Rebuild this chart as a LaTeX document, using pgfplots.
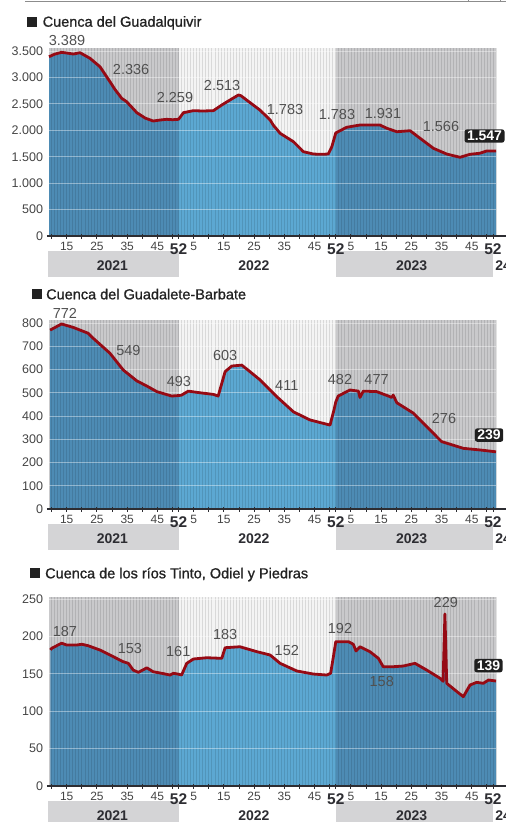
\documentclass[border=0pt]{standalone}
\usepackage{pgfplots}
\pgfplotsset{compat=1.18}
\usepackage{pgfplotstable}
\usepackage{fontspec}
\setmainfont{Liberation Sans}
\newfontfamily\titlefont[FakeBold=1]{Liberation Sans}

\definecolor{bggray}{RGB}{201,201,203}
\definecolor{bglight}{RGB}{244,244,244}
\definecolor{darkblue}{RGB}{77,139,180}
\definecolor{lightblue}{RGB}{92,168,210}
\definecolor{linered}{RGB}{150,10,20}
\definecolor{bandgray}{RGB}{212,212,214}
\definecolor{ticktext}{RGB}{68,68,68}
\definecolor{annot}{RGB}{80,80,80}
\definecolor{axisdark}{RGB}{45,45,50}
\definecolor{titlec}{RGB}{34,34,34}

% weekly reservoir volume (hm3), x = week counted from week 1 of 2021
\pgfplotstableread{
w v
9.14 3392
11 3440
13.3 3475
15 3462
17.2 3443
19.4 3468
22.7 3362
26 3203
29.3 2920
31 2770
33.2 2605
34.8 2542
38.2 2333
41 2230
43.6 2176
46 2195
48.1 2208
50 2200
52 2208
53.6 2333
56.9 2371
60 2365
63.5 2371
66.3 2479
69 2573
71.8 2668
72.6 2655
74.5 2573
78.9 2384
82.3 2195
83.3 2100
85.6 1943
90 1784
93.3 1595
96.6 1551
99 1545
101.5 1551
102.7 1690
104 1950
107.6 2057
112 2100
118.6 2100
120.9 2038
124.2 1973
128.6 1992
131.9 1848
136.3 1659
140.7 1551
145.1 1489
148.4 1546
151.6 1565
153.9 1608
157 1608
}\guad

\pgfplotstableread{
w v
9.5 770
10 773
13.3 796
17.2 781
22.1 756
23.8 734
29.3 670
33.7 598
38.2 551
41.5 529
44.8 505
49.7 486
52 488
53 490
55.2 507
59.1 500
63.5 493
65.1 486
67.4 591
69.6 615
72.9 619
75.6 591
79 555
82.3 512
84.5 483
90 418
95.5 383
102.1 361
103.4 426
104 460
104.8 486
108.7 512
111.5 507
112 480
113.1 507
117.5 505
121.4 486
122.5 480
123 490
124.2 457
129.7 412
134.1 354
139 290
146.2 261
151.7 254
157 246
}\guadalete

\pgfplotstableread{
w v
9.6 182
10 184
13.3 191
15 188.5
18.3 188.5
20 189.5
22.1 187.6
26 181.8
30.4 172.9
33.7 166.2
35.4 164
37 155
38.7 152
41.5 158
43.6 152.8
46.4 150.7
49.2 148.4
50.3 150.7
52 149.5
53 148.4
54.7 164
56.9 169.8
61.3 171.5
66.3 170.7
67.4 184.9
72.3 186.2
77.9 179.6
82.3 175.1
85.6 164
91.1 153.8
96.6 149.7
101 148.4
102.3 150.7
103.3 175
104 193
108.2 193
109.8 189.5
110.7 180.5
112 186.2
115.3 179.6
118.1 170.7
119.7 159.5
123 159.5
126.3 160.4
130.2 164
134.1 155
138.5 144
139.5 140
140.1 230
140.7 137.3
143.4 128.4
146.2 119.4
148.4 135
150.6 138.6
152.8 137.3
154.5 141.7
157 140.4
}\tinto

\newcommand\wk[1]{\raisebox{-4pt}{\fontsize{15.5}{16}\selectfont\bfseries\color{axisdark}#1}}

\newcommand\panelbg[1]{%
  \fill[bggray] (axis cs:9.14,0) rectangle (axis cs:52,#1);
  \fill[bglight] (axis cs:52,0) rectangle (axis cs:104,#1);
  \fill[bggray] (axis cs:104,0) rectangle (axis cs:157,#1);
}
\newcommand\stripes[1]{%
  \pgfplotsinvokeforeach{10,...,157}{%
    \draw[black,opacity=.11,line width=.7pt] (axis cs:##1,0) -- (axis cs:##1,#1);}
}
\newcommand\hgrid[1]{%
  \pgfplotsinvokeforeach{#1}{%
    \draw[white,opacity=.4,line width=.8pt] (axis cs:9.14,##1) -- (axis cs:157,##1);}
}
\newcommand\yearband{%
  \fill[bandgray] ([yshift=-15pt]axis cs:8.9,0) rectangle ([yshift=-41pt]axis cs:52,0);
  \fill[bandgray] ([yshift=-15pt]axis cs:104,0) rectangle ([yshift=-41pt]axis cs:156,0);
  \node[yr] at ([yshift=-29.5pt]axis cs:30.1,0) {2021};
  \node[yr] at ([yshift=-29.5pt]axis cs:76.9,0) {2022};
  \node[yr] at ([yshift=-29.5pt]axis cs:129.1,0) {2023};
  \node[yr,anchor=west,inner xsep=0pt] at ([yshift=-29.5pt]axis cs:156.7,0) {24};
  \draw[axisdark,line width=1.6pt] ([xshift=-2pt]axis cs:9.14,0) -- ([xshift=14pt]axis cs:157,0);
}

\pgfplotsset{
  panel/.style={
    anchor=south west, scale only axis, width=447pt,
    xmin=9.14, xmax=157, ymin=0,
    clip=false, axis on top,
    axis line style={draw=none},
    xtick pos=bottom, ytick pos=left,
    xtick={15,25,35,45,52,57,67,77,87,97,104,109,119,129,139,149,156},
    xticklabels={15,25,35,45,\wk{52},5,15,25,35,45,\wk{52},5,15,25,35,45,\wk{52}},
    minor xtick={10,20,30,40,50,62,72,82,92,102,114,124,134,144,154},
    tick align=center, major tick length=5pt, minor tick length=5pt,
    xtick style={draw=axisdark, line width=0.9pt},
    ytick style={draw=none},
    xticklabel style={font=\fontsize{12}{12}\selectfont, text=ticktext, anchor=base, yshift=-12pt},
    yticklabel style={font=\fontsize{12.5}{13}\selectfont, text=ticktext},
  },
  redline/.style={linered, line width=2.8pt, line join=round},
}

\begin{document}
\begin{tikzpicture}[
  lab/.style={font=\fontsize{14.5}{15}\selectfont, text=annot, inner sep=0pt},
  vbox/.style={fill=black!88, text=white, font=\fontsize{14}{14}\selectfont\bfseries,
    rounded corners=2.5pt, inner xsep=2.5pt, inner ysep=1.8pt},
  yr/.style={font=\fontsize{14}{14}\selectfont\bfseries, text=axisdark},
  ttl/.style={anchor=base west, inner sep=0pt, font=\titlefont\fontsize{14.5}{15}\selectfont, text=titlec},
]
\draw[black!45, line width=0.8pt] (25pt,-1.8pt) -- (506pt,-1.8pt);
\draw[black!45, line width=0.8pt] (468pt,0pt) -- (468pt,-1.8pt) (500pt,0pt) -- (500pt,-1.8pt);

% ---------- Guadalquivir ----------
\begin{axis}[panel, at={(49pt,-236pt)}, height=188pt, ymax=3557,
  ytick={0,500,...,3500}, yticklabels={0,500,1.000,1.500,2.000,2.500,3.000,3.500}]
  \panelbg{3557}
  \addplot[fill=darkblue, draw=none] table[x=w,y=v]{\guad} \closedcycle;
  \addplot[fill=lightblue, draw=none, restrict x to domain=52:104] table[x=w,y=v]{\guad} \closedcycle;
  \stripes{3557}
  \hgrid{500,1000,...,3500}
  \addplot[redline] table[x=w,y=v]{\guad};
  \yearband
  \node[ttl] at ([xshift=-22pt,yshift=21.3pt]rel axis cs:0,1) {\rule{10pt}{10pt}\hspace{5.5pt}Cuenca del Guadalquivir};
  \node[lab] at (axis cs:15.1,3708) {3.389};
  \node[lab] at (axis cs:36.3,3141) {2.336};
  \node[lab] at (axis cs:50.8,2611) {2.259};
  \node[lab] at (axis cs:66.4,2838) {2.513};
  \node[lab] at (axis cs:87.2,2384) {1.783};
  \node[lab] at (axis cs:104.4,2308) {1.783};
  \node[lab] at (axis cs:119.6,2327) {1.931};
  \node[lab] at (axis cs:138.8,2081) {1.566};
  \node[vbox] at (axis cs:153.2,1892) {1.547};
\end{axis}

% ---------- Guadalete-Barbate ----------
\begin{axis}[panel, at={(49pt,-509pt)}, height=189pt, ymax=813,
  ytick={0,100,...,800}, yticklabels={0,100,200,300,400,500,600,700,800}]
  \panelbg{813}
  \addplot[fill=darkblue, draw=none] table[x=w,y=v]{\guadalete} \closedcycle;
  \addplot[fill=lightblue, draw=none, restrict x to domain=52:104] table[x=w,y=v]{\guadalete} \closedcycle;
  \stripes{813}
  \hgrid{100,200,...,800}
  \addplot[redline] table[x=w,y=v]{\guadalete};
  \yearband
  \node[ttl] at ([xshift=-17pt,yshift=20.7pt]rel axis cs:0,1) {\rule{10pt}{10pt}\hspace{4pt}Cuenca del Guadalete-Barbate};
  \node[lab] at (axis cs:14.4,842) {772};
  \node[lab] at (axis cs:35.4,680) {549};
  \node[lab] at (axis cs:52.1,548) {493};
  \node[lab] at (axis cs:67.4,662) {603};
  \node[lab] at (axis cs:87.8,533) {411};
  \node[lab] at (axis cs:105.4,558) {482};
  \node[lab] at (axis cs:117.5,555) {477};
  \node[lab] at (axis cs:139.8,390) {276};
  \node[vbox] at (axis cs:154.7,318) {239};
\end{axis}

% ---------- Tinto, Odiel y Piedras ----------
\begin{axis}[panel, at={(49pt,-786pt)}, height=189pt, ymax=252.7,
  ytick={0,50,...,250}, yticklabels={0,50,100,150,200,250}]
  \panelbg{252.7}
  \addplot[fill=darkblue, draw=none] table[x=w,y=v]{\tinto} \closedcycle;
  \addplot[fill=lightblue, draw=none, restrict x to domain=52:104] table[x=w,y=v]{\tinto} \closedcycle;
  \stripes{252.7}
  \hgrid{50,100,...,250}
  \addplot[redline] table[x=w,y=v]{\tinto};
  \yearband
  \node[ttl] at ([xshift=-19pt,yshift=18.7pt]rel axis cs:0,1) {\rule{10pt}{10pt}\hspace{5pt}Cuenca de los ríos Tinto, Odiel y Piedras};
  \node[lab] at (axis cs:14.4,206) {187};
  \node[lab] at (axis cs:35.9,184) {153};
  \node[lab] at (axis cs:51.9,179.6) {161};
  \node[lab] at (axis cs:67.4,203) {183};
  \node[lab] at (axis cs:87.8,181) {152};
  \node[lab] at (axis cs:105.4,211) {192};
  \node[lab] at (axis cs:140.4,246) {229};
  \node[lab] at (axis cs:119.2,139.5) {158};
  \node[vbox] at (axis cs:154.5,161) {139};
\end{axis}

\pgfresetboundingbox
\path[use as bounding box] (0pt,0pt) rectangle (506pt,-822pt);
\end{tikzpicture}
\end{document}
